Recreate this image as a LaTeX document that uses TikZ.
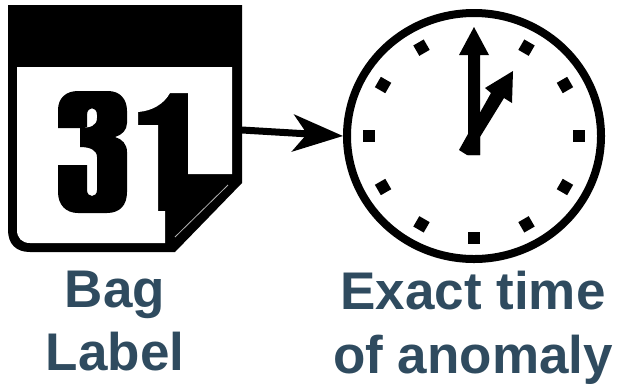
\documentclass[tikz,border=0pt]{standalone}
\usepackage{fontspec}
\setmainfont{Liberation Sans}
\usetikzlibrary{shapes.geometric,calc,positioning,arrows.meta}
\definecolor{labelblue}{RGB}{47,75,95}
\tikzset{
  biglabel/.style={text=labelblue,font=\fontsize{53bp}{60bp}\selectfont\bfseries,inner sep=0pt,anchor=base},
  clockface/.style={draw=black,line width=8bp,ellipse,inner sep=0pt,minimum width=254bp,minimum height=246bp},
  clocktick/.style={fill=black,inner sep=0pt,minimum size=12bp}
}
\begin{document}
\begin{tikzpicture}[x=1bp,y=-1bp]
        \useasboundingbox (0,0) rectangle (618,384);

        % Calendar sheet
        \coordinate (bag) at (242,130);
        \fill (8,5) -- (242,5) -- (242,183) -- (175,252) -- (30,252)
            .. controls (16,252) and (8,244) .. (8,230) -- cycle;
        \fill[white] (17,67) -- (232,67) -- (232,174) -- (188,174) -- (188,93) -- (170,93)
            .. controls (164,104) and (152,111) .. (138,112) -- (138,125) -- (158,125)
            -- (158,211) -- (165,211) -- (165,243) -- (30,243)
            .. controls (22,243) and (17,238) .. (17,230) -- cycle;
        \draw[gray!60, line width=0.8bp] (175,237) -- (228,185);

        % Number three
        \fill[even odd rule] (58,128) -- (58,110) .. controls (58,98) and (66,91) .. (78,91)
            -- (108,91) .. controls (120,91) and (127,99) .. (127,111) -- (127,123)
            .. controls (127,130) and (122,135) .. (115,137)
            .. controls (122,139) and (127,144) .. (127,152) -- (127,192)
            .. controls (127,205) and (120,213) .. (107,213) -- (78,213)
            .. controls (66,213) and (58,205) .. (58,192) -- (58,165) -- (87,165) -- (87,190)
            .. controls (87,198) and (97,198) .. (97,190) -- (97,157)
            .. controls (97,150) and (90,147) .. (80,147) -- (80,128)
            .. controls (90,128) and (97,126) .. (97,118) -- (97,115)
            .. controls (97,106) and (87,106) .. (87,115) -- (87,128) -- cycle;

        % Clock
        \node[clockface] (clock) at (474,136) {};
        \foreach \a in {0,30,60,90,120,150,180,210,240,300,330}
            \node[clocktick,rotate=-\a] (tick\a) at ($(clock.center)+(\a:105 and 102)$) {};

        % Hands
        \fill (468,155) -- (468,55) -- (459,55) -- (474,27) -- (489,55) -- (480,55) -- (480,155) -- cycle;
        \fill (459,150) -- (491,93) -- (485,88) -- (513,71) -- (512,103) -- (504,98) -- (480,137) -- (480,155) -- (467,155) -- cycle;

        \draw[line width=7bp, -{Stealth[length=50bp,width=37bp,inset=14bp]}] (bag) -- (clock.west);

        % Labels
        \node[biglabel] (baglabel) at (115,307) {Bag};
        \node[biglabel] (baglabeltwo) at (115,370) {Label};
        \node[biglabel] (timelabel) at (473,309) {Exact time};
        \node[biglabel] (timelabeltwo) at (473,373) {of anomaly};
\end{tikzpicture}
\end{document}
